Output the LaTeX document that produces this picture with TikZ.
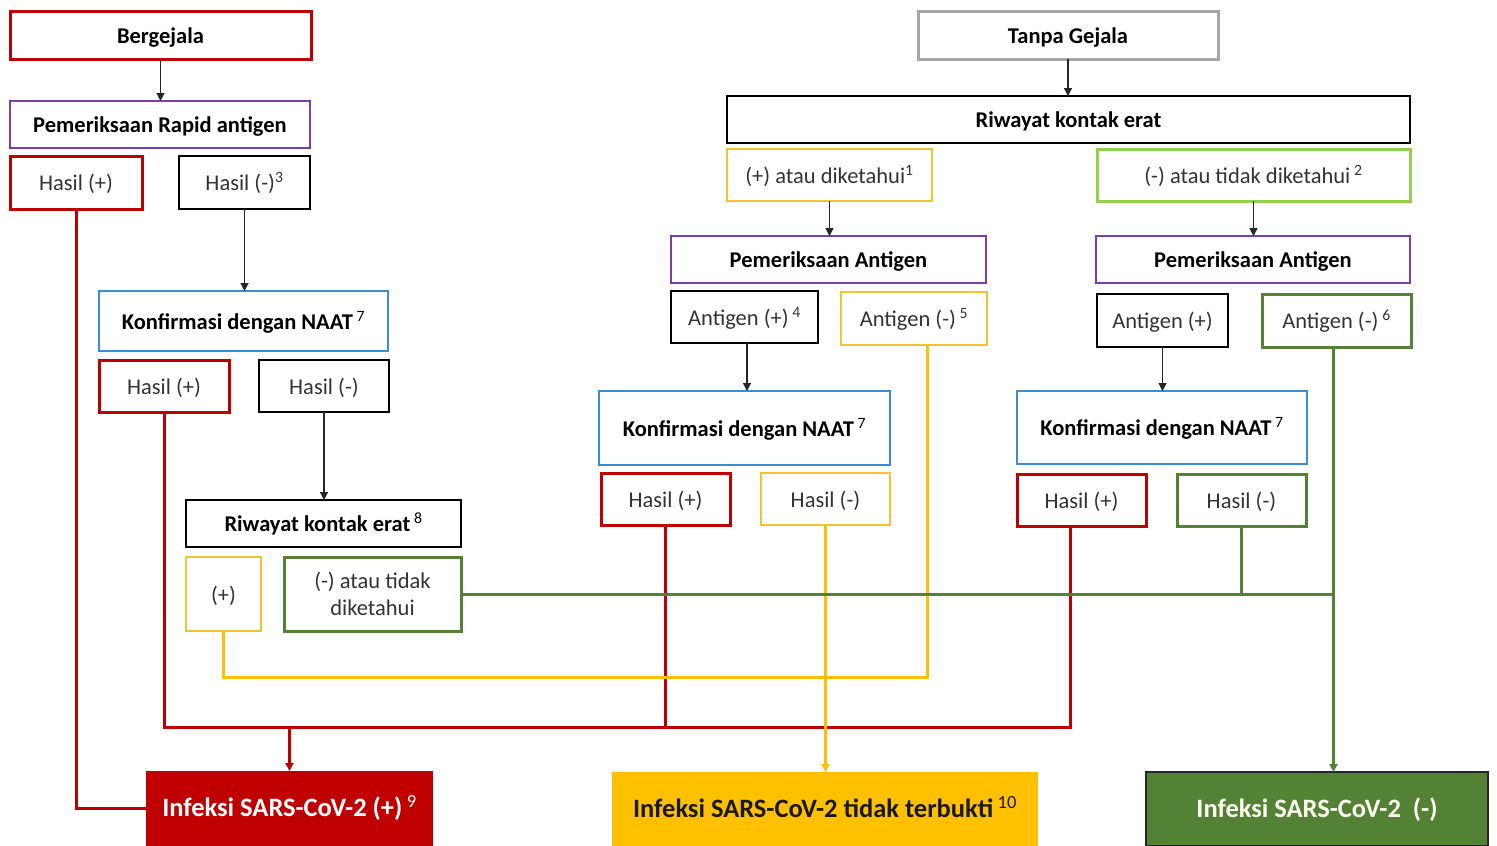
\documentclass[tikz,border=0pt]{standalone}
\usepackage{fontspec}
\setmainfont{Carlito}
\usetikzlibrary{arrows.meta}
\definecolor{cred}{HTML}{C00000}
\definecolor{cpurple}{HTML}{7A3FA8}
\definecolor{cblue}{HTML}{3A8FD2}
\definecolor{cyellow}{HTML}{F5C230}
\definecolor{cfill}{HTML}{FFC000}
\definecolor{cgreen}{HTML}{548235}
\definecolor{clgreen}{HTML}{92D050}
\definecolor{cgray}{HTML}{A6A6A6}
\definecolor{textgray}{HTML}{333333}
\newcommand{\supnum}[1]{\textsuperscript{\mdseries #1}}
\begin{document}
\begin{tikzpicture}[x=1pt,y=-1pt,
  base0/.style={rectangle, inner sep=0pt, outer sep=0pt, align=center,
    font=\fontsize{22.5}{27}\selectfont, text=textgray},
  base/.style={base0, text height=16pt, text depth=0pt},
  hd/.style={base, font=\fontsize{22.5}{27}\selectfont\bfseries, text=black},
  big/.style={rectangle, inner sep=0pt, outer sep=0pt, align=center,
    text height=16.4pt, text depth=0pt,
    font=\fontsize{26.5}{30}\selectfont\bfseries},
  redbox/.style={draw=cred, line width=3pt},
  blkbox/.style={draw=black, line width=2pt},
  purbox/.style={draw=cpurple, line width=2pt},
  blubox/.style={draw=cblue, line width=2pt},
  yelbox/.style={draw=cyellow, line width=2.6pt},
  grnbox/.style={draw=cgreen, line width=3pt},
  lgrnbox/.style={draw=clgreen, line width=3pt},
  graybox/.style={draw=cgray, line width=3pt},
  tip/.style={-{Triangle[length=8pt,width=8pt]}},
  conn/.style={tip, line width=1.2pt, draw=black!85},
  redline/.style={draw=cred, line width=3pt},
  yline/.style={draw=cfill, line width=3pt},
  gline/.style={draw=cgreen, line width=3pt}
]
\useasboundingbox (0,0) rectangle (1497,846);

% ---------- left branch ----------
\node[hd, redbox, minimum width=301pt, minimum height=48pt] (berg) at (160.5,35) {Bergejala};
\node[hd, purbox, minimum width=300pt, minimum height=47pt] (prap) at (160,124.5) {Pemeriksaan Rapid antigen};
\node[base, redbox, minimum width=132pt, minimum height=53pt] (hl1p) at (76,182.5) {Hasil (+)};
\node[base, blkbox, minimum width=131pt, minimum height=53pt] (hl1n) at (244.5,182.5) {Hasil (-)\supnum{3}};
\node[hd, blubox, minimum width=289pt, minimum height=60pt] (konfl) at (243.5,321) {Konfirmasi dengan NAAT\,\supnum{7}};
\node[base, redbox, minimum width=130pt, minimum height=52pt] (hl2p) at (164,386) {Hasil (+)};
\node[base, blkbox, minimum width=130pt, minimum height=52pt] (hl2n) at (324,386) {Hasil (-)};
\node[hd, blkbox, minimum width=275pt, minimum height=47pt] (riwl) at (323.5,523.5) {Riwayat kontak erat\,\supnum{8}};
\node[base, yelbox, minimum width=75pt, minimum height=74pt] (plusl) at (223.5,594) {(+)};
\node[base0, grnbox, minimum width=177pt, minimum height=74pt] (negl) at (372.5,594) {(-) atau tidak\\diketahui};

% ---------- right branch ----------
\node[hd, graybox, minimum width=300pt, minimum height=48pt] (tanpa) at (1068,35) {Tanpa Gejala};
\node[hd, blkbox, line width=2.5pt, minimum width=683pt, minimum height=47pt] (riwr) at (1068.5,119.5) {Riwayat kontak erat};
\node[base, yelbox, minimum width=205pt, minimum height=52pt] (posk) at (829.5,175) {(+) atau diketahui\supnum{1}};
\node[base, lgrnbox, minimum width=313pt, minimum height=52pt] (negk) at (1253.5,175) {(-) atau tidak diketahui\,\supnum{2}};

\node[hd, purbox, minimum width=315pt, minimum height=47pt] (pemm) at (828.5,259.5) {Pemeriksaan Antigen};
\node[base, blkbox, minimum width=147pt, minimum height=52pt] (agpm) at (744.5,317) {Antigen (+)\,\supnum{4}};
\node[base, yelbox, minimum width=146pt, minimum height=53pt] (agnm) at (914,318.5) {Antigen (-)\,\supnum{5}};
\node[hd, blubox, minimum width=291pt, minimum height=74pt] (konfm) at (744.5,428) {Konfirmasi dengan NAAT\,\supnum{7}};
\node[base, redbox, minimum width=129pt, minimum height=52pt] (hmp) at (665.5,499) {Hasil (+)};
\node[base, yelbox, minimum width=129pt, minimum height=52pt] (hmn) at (825.5,499) {Hasil (-)};

\node[hd, purbox, minimum width=314pt, minimum height=47pt] (pemr) at (1253,259.5) {Pemeriksaan Antigen};
\node[base, blkbox, minimum width=131pt, minimum height=53pt] (agpr) at (1162.5,320.5) {Antigen (+)};
\node[base, grnbox, minimum width=149pt, minimum height=53pt] (agnr) at (1336.5,320.5) {Antigen (-)\,\supnum{6}};
\node[hd, blubox, minimum width=290pt, minimum height=73pt] (konfr) at (1162,427.5) {Konfirmasi dengan NAAT\,\supnum{7}};
\node[base, redbox, minimum width=129pt, minimum height=52pt] (hrp) at (1081.5,500) {Hasil (+)};
\node[base, grnbox, minimum width=129pt, minimum height=52pt] (hrn) at (1241.5,500) {Hasil (-)};

% ---------- outcomes ----------
\node[big, fill=cred, text=white, minimum width=287pt, minimum height=75pt] (infpos) at (289.5,808.5) {Infeksi SARS-CoV-2 (+)\,\supnum{9}};
\node[big, fill=cfill, text=black!90, minimum width=426pt, minimum height=74pt] (inftid) at (825,809) {Infeksi SARS-CoV-2 tidak terbukti\,\supnum{10}};
\node[big, fill=cgreen, draw=black!85, line width=2pt, text=white!95!yellow, minimum width=342pt, minimum height=74pt] (infneg) at (1317,809) {Infeksi SARS-CoV-2\ \ (-)};

% ---------- bus coordinates ----------
\coordinate (rbus) at (0,727);
\coordinate (ybus) at (0,677);
\coordinate (rtap) at ([xshift=-11.5pt]hrp.south);
\coordinate (ytap) at ([xshift=13pt]agnm.south);
\coordinate (gtap) at ([xshift=-3pt]agnr.south);

% ---------- black arrows ----------
\draw[conn] (berg.south) -- (berg.south |- prap.north);
\draw[conn] (hl1n.south) -- (hl1n.south |- konfl.north);
\draw[conn] (hl2n.south) -- (hl2n.south |- riwl.north);
\draw[conn] (tanpa.south) -- (tanpa.south |- riwr.north);
\draw[conn] (posk.south) -- (posk.south |- pemm.north);
\draw[conn] (negk.south) -- (negk.south |- pemr.north);
\draw[conn] ([xshift=2.5pt]agpm.south) -- ([xshift=2.5pt]agpm.south |- konfm.north);
\draw[conn] (agpr.south) -- (agpr.south |- konfr.north);

% ---------- red connectors ----------
\draw[redline] (hl1p.south) |- (infpos.west);
\draw[redline] (hl2p.south) |- (rtap |- rbus) -- (rtap);
\draw[redline] (hmp.south) -- (hmp.south |- rbus);
\draw[redline, tip] (infpos.north |- rbus) -- (infpos.north);

% ---------- yellow connectors ----------
\draw[yline] (plusl.south) |- (ytap |- ybus) -- (ytap);
\draw[yline, tip] (hmn.south) -- (hmn.south |- inftid.north);

% ---------- green connectors ----------
\draw[gline] (negl.east) -- (gtap |- negl.east);
\draw[gline] (hrn.south) -- (hrn.south |- negl.east);
\draw[gline, tip] (gtap) -- (gtap |- infneg.north);
\end{tikzpicture}
\end{document}
